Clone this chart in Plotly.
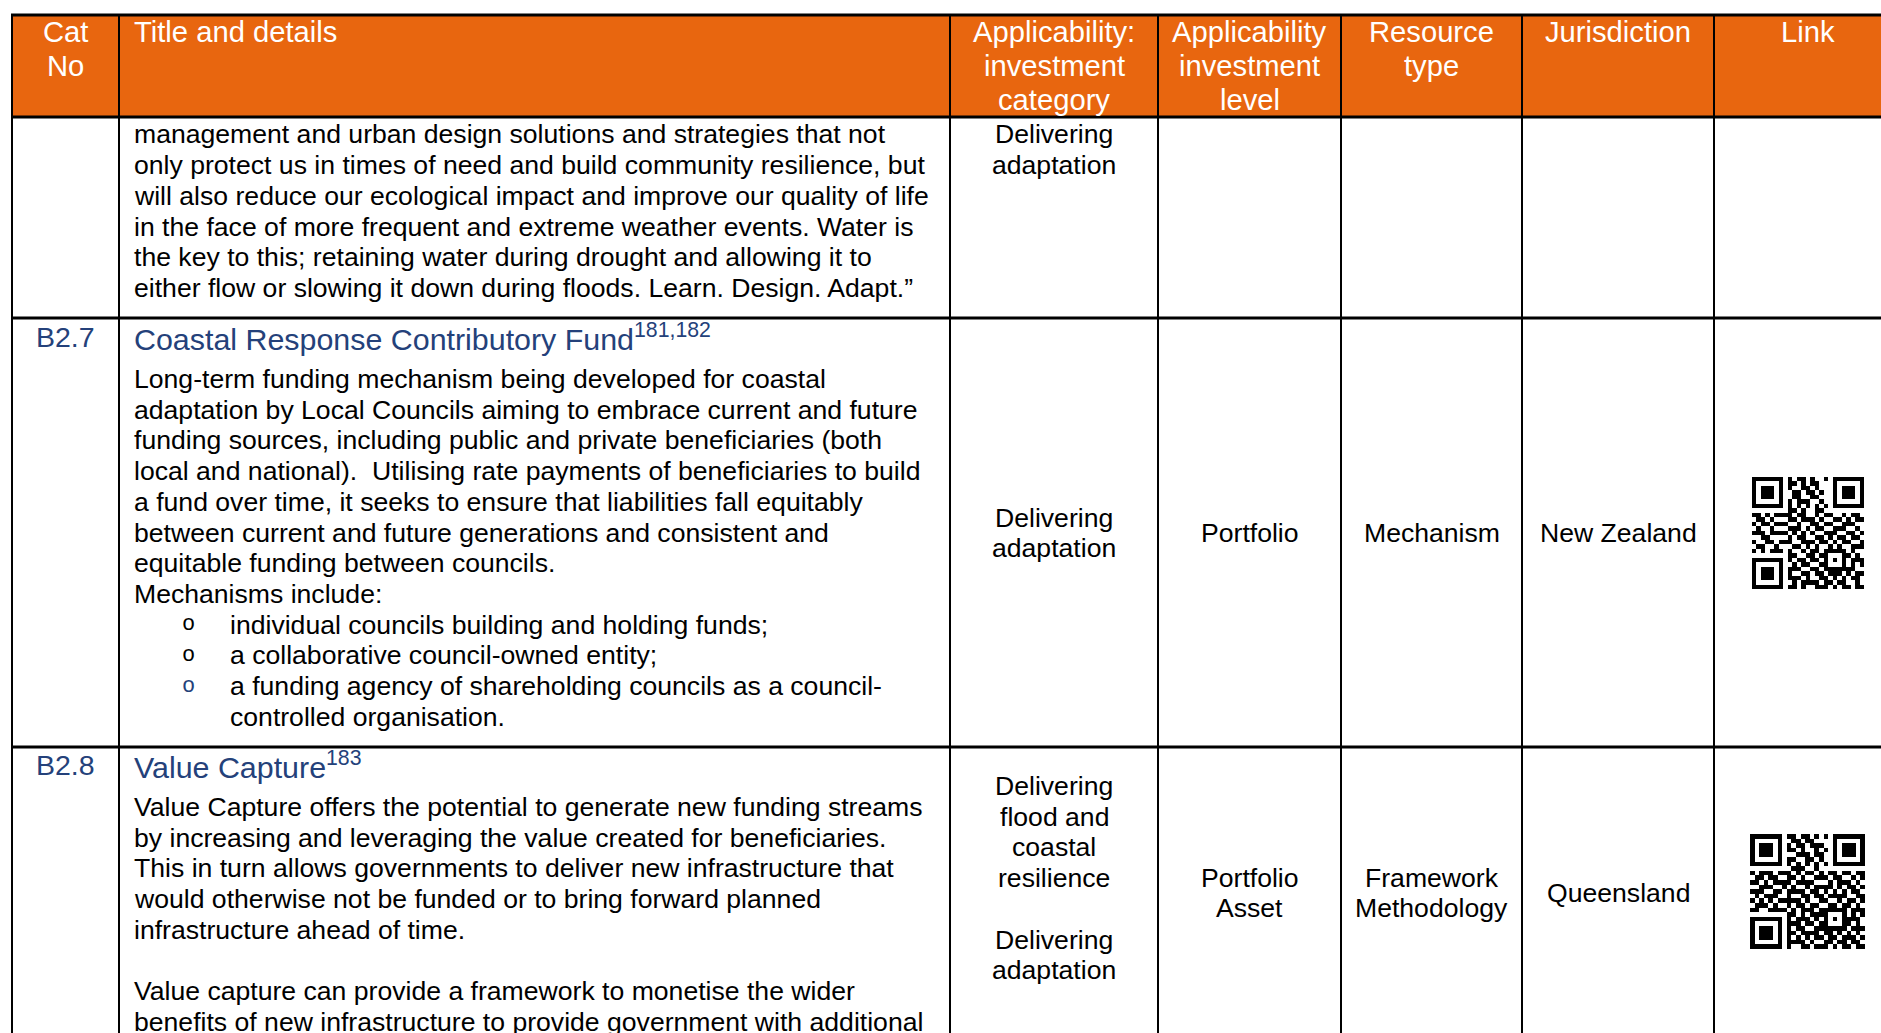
import plotly.graph_objects as go

W, H = 1881, 1033

# ---------------- data ----------------
header_cat = ["Cat", "No"]
header_title = ["Title and details"]
header_cols = [
    ["Applicability:", "investment", "category"],
    ["Applicability", "investment", "level"],
    ["Resource", "type"],
    ["Jurisdiction"],
    ["Link"],
]
cat_numbers = ["", "B2.7", "B2.8"]
titles = ["", "Coastal Response Contributory Fund", "Value Capture"]
title_refs = ["", "181,182", "183"]

row1_details = [
    "management and urban design solutions and strategies that not",
    "only protect us in times of need and build community resilience, but",
    "will also reduce our ecological impact and improve our quality of life",
    "in the face of more frequent and extreme weather events. Water is",
    "the key to this; retaining water during drought and allowing it to",
    "either flow or slowing it down during floods. Learn. Design. Adapt.\u201d",
]
row2_details = [
    "Long-term funding mechanism being developed for coastal",
    "adaptation by Local Councils aiming to embrace current and future",
    "funding sources, including public and private beneficiaries (both",
    "local and national).\u00a0 Utilising rate payments of beneficiaries to build",
    "a fund over time, it seeks to ensure that liabilities fall equitably",
    "between current and future generations and consistent and",
    "equitable funding between councils.",
    "Mechanisms include:",
]
row2_bullets = [
    ["individual councils building and holding funds;"],
    ["a collaborative council-owned entity;"],
    ["a funding agency of shareholding councils as a council-", "controlled organisation."],
]
row3_details = [
    "Value Capture offers the potential to generate new funding streams",
    "by increasing and leveraging the value created for beneficiaries.",
    "This in turn allows governments to deliver new infrastructure that",
    "would otherwise not be funded or to bring forward planned",
    "infrastructure ahead of time.",
    "",
    "Value capture can provide a framework to monetise the wider",
    "benefits of new infrastructure to provide government with additional",
]
inv_category = [
    ["Delivering", "adaptation"],
    ["Delivering", "adaptation"],
    ["Delivering", "flood and", "coastal", "resilience", "", "Delivering", "adaptation"],
]
inv_level = [[], ["Portfolio"], ["Portfolio", "Asset"]]
resource_type = [[], ["Mechanism"], ["Framework", "Methodology"]]
jurisdiction = [[], ["New Zealand"], ["Queensland"]]

qr_link_b27 = [
    "0000000010110100100000000",
    "0000000011010110000000000",
    "0000000110011010000000000",
    "0000000001101101000000000",
    "0000000101100110000000000",
    "0000000010111001000000000",
    "0000000000000000000000000",
    "0000000011010011000000000",
    "1101011110110010110010110",
    "0110100011011101001101011",
    "1011011100100110110011100",
    "0100100011101011001110010",
    "1110111101010100111001101",
    "0011000010110011010110110",
    "1001101110011101101011001",
    "0110010001101010010100111",
    "1010111010010110111110100",
    "0000000011001101100011010",
    "0000000010110110111010111",
    "0000000001011001110110101",
    "0000000011100110100011100",
    "0000000010011011011101011",
    "0000000011101001101010110",
    "0000000001011110110110010",
    "0000000011010011101011011",
]
qr_link_b28 = [
    "0000000011011010100000000",
    "0000000101101100000000000",
    "0000000010110111000000000",
    "0000000111010010100000000",
    "0000000100111011000000000",
    "0000000011001101000000000",
    "0000000000000000000000000",
    "0000000101110010000000000",
    "1011100110101101011011011",
    "0110111011010011101100101",
    "1101010110111100010111010",
    "0011101101001011110101101",
    "1110010011110110101010110",
    "0101111010011011011110011",
    "1010100111101001100101101",
    "0111011010110110011011010",
    "1100110101011101110110111",
    "0000000011010111111010101",
    "0000000010111010110101110",
    "0000000011101101111011010",
    "0000000010110011101110111",
    "0000000011011110110101010",
    "0000000010101011011011101",
    "0000000011110100110110110",
    "0000000010011011101011011",
]

# ---------------- layout / style ----------------
FONT = "Arial, 'Liberation Sans', sans-serif"
ORANGE = "#E8660F"
NAVY = "#24417A"
col_edges = [12, 119, 950, 1158, 1341, 1522, 1714, 1910]
row_edges = [15, 117, 318, 747, 1045]
BODY = 26.6
BODY_LS = 30.7
HEAD = 29.2
HEAD_LS = 33.6

fig = go.Figure()
shapes = []
annotations = []


def txt(x, y, s, size=BODY, color="black", anchor="center", family=FONT):
    annotations.append(dict(
        x=x, y=y, xref="x", yref="y", text=s, showarrow=False,
        xanchor=anchor, yanchor="middle", borderpad=0,
        font=dict(family=family, size=size, color=color),
    ))


# header background
shapes.append(dict(type="rect", xref="x", yref="y", x0=col_edges[0], x1=col_edges[-1],
                   y0=row_edges[0], y1=row_edges[1], fillcolor=ORANGE,
                   line=dict(width=0), layer="below"))

# grid lines
for y in row_edges[:-1]:
    shapes.append(dict(type="line", xref="x", yref="y", x0=col_edges[0] - 1, x1=col_edges[-1],
                       y0=y, y1=y, line=dict(color="black", width=3)))
for x in col_edges[:-1]:
    shapes.append(dict(type="line", xref="x", yref="y", x0=x, x1=x,
                       y0=row_edges[0], y1=row_edges[-1], line=dict(color="black", width=2)))

centers = [(col_edges[i] + col_edges[i + 1]) / 2 for i in range(len(col_edges) - 1)]
centers[-1] = 1808

# header text
hy0 = 32.4
for i, s in enumerate(header_cat):
    txt(centers[0], hy0 + i * HEAD_LS, s, HEAD, "white")
txt(133, hy0, header_title[0], HEAD, "white", "left")
for c, lines in enumerate(header_cols):
    for i, s in enumerate(lines):
        txt(centers[2 + c], hy0 + i * HEAD_LS, s, HEAD, "white")

# row 1 (continued)
for i, s in enumerate(row1_details):
    txt(133, 134.4 + i * BODY_LS, s, BODY, "black", "left")

# titles and cat numbers
title_y = [0, 337, 765]
for r in (1, 2):
    txt(centers[0], title_y[r], cat_numbers[r], 28.5, NAVY)
    txt(133, title_y[r], titles[r] + "<sup>" + title_refs[r] + "</sup>", 30.4, NAVY, "left")

# row 2 details
y0 = 379
for i, s in enumerate(row2_details):
    txt(133, y0 + i * BODY_LS, s, BODY, "black", "left")
k = len(row2_details)
for b, lines in enumerate(row2_bullets):
    bcol = NAVY if b == len(row2_bullets) - 1 else "black"
    txt(188, y0 + k * BODY_LS, "o", 22, bcol, "center", "'Courier New', 'Liberation Mono', monospace")
    for s in lines:
        txt(229, y0 + k * BODY_LS, s, BODY, "black", "left")
        k += 1

# row 3 details
for i, s in enumerate(row3_details):
    if s:
        txt(133, 807 + i * BODY_LS, s, BODY, "black", "left")

# right-hand cells
row_mid = [None, 533, 893]
for r in range(3):
    for c, col in enumerate([inv_category, inv_level, resource_type, jurisdiction]):
        lines = col[r]
        if not lines:
            continue
        if r == 0:
            start = 134.4
        elif c == 0 and r == 2:
            start = 786
        else:
            start = row_mid[r] - (len(lines) - 1) / 2 * BODY_LS
        for i, s in enumerate(lines):
            if s:
                txt(centers[2 + c], start + i * BODY_LS, s, BODY, "black")


# QR codes
def qr_matrix(rows):
    n = len(rows)
    m = [[1 if ch == "1" else 0 for ch in row.ljust(n, "0")[:n]] for row in rows]
    for (r0, c0) in [(0, 0), (0, n - 7), (n - 7, 0)]:
        for i in range(-1, 8):
            for j in range(-1, 8):
                rr, cc = r0 + i, c0 + j
                if 0 <= rr < n and 0 <= cc < n:
                    inside = 0 <= i <= 6 and 0 <= j <= 6
                    v = 1 if inside and (i in (0, 6) or j in (0, 6) or (2 <= i <= 4 and 2 <= j <= 4)) else 0
                    m[rr][cc] = v
    for k in range(8, n - 8):
        m[6][k] = 1 if k % 2 == 0 else 0
        m[k][6] = 1 if k % 2 == 0 else 0
    a = n - 7
    for i in range(-2, 3):
        for j in range(-2, 3):
            m[a + i][a + j] = 0 if max(abs(i), abs(j)) == 1 else 1
    return m


for rows, (qx, qy, qs) in [(qr_link_b27, (1752, 477, 112)), (qr_link_b28, (1750, 834, 115))]:
    mat = qr_matrix(rows)
    n = len(mat)
    d = qs / n
    fig.add_trace(go.Heatmap(z=mat, x0=qx + d / 2, dx=d, y0=qy + d / 2, dy=d,
                             colorscale=[[0, "white"], [1, "black"]], zmin=0, zmax=1,
                             showscale=False, hoverinfo="skip", zsmooth=False))

fig.update_layout(
    width=W, height=H, margin=dict(l=0, r=0, t=0, b=0),
    paper_bgcolor="white", plot_bgcolor="white", showlegend=False,
    xaxis=dict(range=[0, W], visible=False, fixedrange=True),
    yaxis=dict(range=[H, 0], visible=False, fixedrange=True),
    shapes=shapes, annotations=annotations,
)
# remove the default page margin so the figure fills the window exactly
fig.write_html("out.html",
               config={"displayModeBar": False},
               post_script="document.body.style.margin='0';document.body.style.overflow='hidden';")
